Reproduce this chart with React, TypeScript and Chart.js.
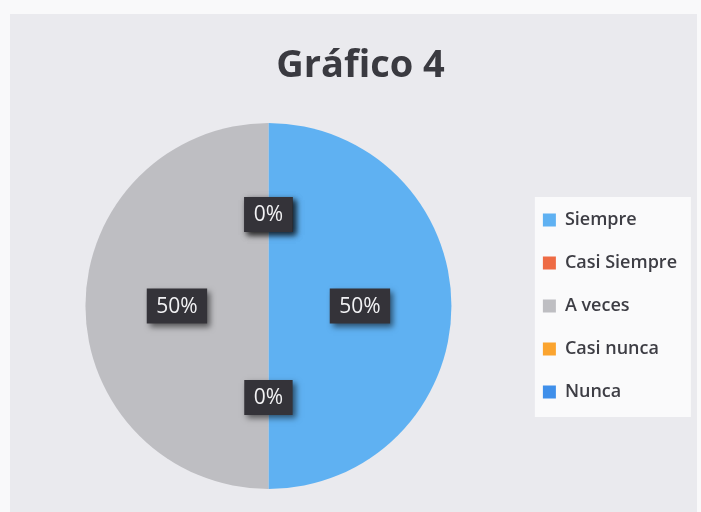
import React, { useEffect, useRef } from "react";
import { Chart, registerables } from "chart.js";

Chart.register(...registerables);

const titleText = "Gráfico 4";
const categories = ["Siempre", "Casi Siempre", "A veces", "Casi nunca", "Nunca"];
const values = [50, 0, 50, 0, 0];
const colors = ["#5fb1f2", "#ee6b44", "#bebec2", "#fba42f", "#3f8fea"];

const FONT = "'Open Sans', 'DejaVu Sans', sans-serif";

const bgPlugin = {
  id: "legendBg",
  beforeDraw(chart: any) {
    const lg = chart.legend;
    if (!lg || !lg.legendHitBoxes || !lg.legendHitBoxes.length) return;
    const hb = lg.legendHitBoxes;
    const first = hb[0];
    const last = hb[hb.length - 1];
    const ctx = chart.ctx;
    ctx.save();
    ctx.fillStyle = "#fafafb";
    const x0 = first.left - 8;
    const y0 = first.top - 14;
    const x1 = first.left + 148;
    const y1 = last.top + last.height + 16;
    ctx.fillRect(x0, y0, x1 - x0, y1 - y0);
    ctx.restore();
  },
};

const titlePlugin = {
  id: "customTitle",
  afterDraw(chart: any) {
    const ctx = chart.ctx;
    ctx.save();
    ctx.font = `bold 38px ${FONT}`;
    ctx.fillStyle = "#3a3a40";
    ctx.textAlign = "center";
    ctx.textBaseline = "alphabetic";
    ctx.fillText(titleText, chart.width / 2 + 7, 63);
    ctx.restore();
  },
};

const labelPlugin = {
  id: "pctLabels",
  afterDatasetsDraw(chart: any) {
    const ctx = chart.ctx;
    const meta = chart.getDatasetMeta(0);
    const data = chart.data.datasets[0].data as number[];
    const total = data.reduce((a, b) => a + b, 0);
    ctx.save();
    ctx.font = `21px ${FONT}`;
    meta.data.forEach((arc: any, i: number) => {
      const pos = arc.tooltipPosition();
      const txt = Math.round((data[i] / total) * 100) + "%";
      const tw = ctx.measureText(txt).width;
      const w = tw + 19;
      const h = 35;
      ctx.save();
      ctx.shadowColor = "rgba(0,0,0,0.55)";
      ctx.shadowBlur = 6;
      ctx.shadowOffsetX = 3;
      ctx.shadowOffsetY = 3;
      ctx.fillStyle = "#343339";
      ctx.fillRect(pos.x - w / 2, pos.y - h / 2, w, h);
      ctx.restore();
      ctx.fillStyle = "#f2f2f4";
      ctx.textAlign = "center";
      ctx.textBaseline = "middle";
      ctx.fillText(txt, pos.x, pos.y + 1);
    });
    ctx.restore();
  },
};

export default function App() {
  const ref = useRef<HTMLCanvasElement | null>(null);
  useEffect(() => {
    if (!ref.current) return;
    const chart = new Chart(ref.current, {
      type: "pie",
      data: {
        labels: categories,
        datasets: [
          {
            data: values,
            backgroundColor: colors,
            borderWidth: 0,
          },
        ],
      },
      options: {
        animation: false,
        responsive: true,
        maintainAspectRatio: false,
        layout: { padding: { top: 109, bottom: 23, left: 9, right: 10 } },
        plugins: {
          tooltip: { enabled: false },
          title: { display: false },
          legend: {
            position: "right",
            maxWidth: 180,
            labels: {
              boxWidth: 13,
              boxHeight: 13,
              padding: 25,
              color: "#3d3d44",
              font: { family: FONT, size: 18, weight: "600" as any },
            },
          },
        },
      },
      plugins: [bgPlugin, titlePlugin, labelPlugin],
    });
    return () => chart.destroy();
  }, []);
  return (
    <div
      style={{
        position: "absolute",
        left: 0,
        top: 0,
        width: 701,
        height: 512,
        background: "#f9f9fa",
        overflow: "hidden",
      }}
    >
      <div
        style={{
          position: "absolute",
          left: 10,
          top: 14,
          width: 687,
          height: 498,
          background: "#eaeaee",
        }}
      >
        <canvas ref={ref} />
      </div>
    </div>
  );
}
